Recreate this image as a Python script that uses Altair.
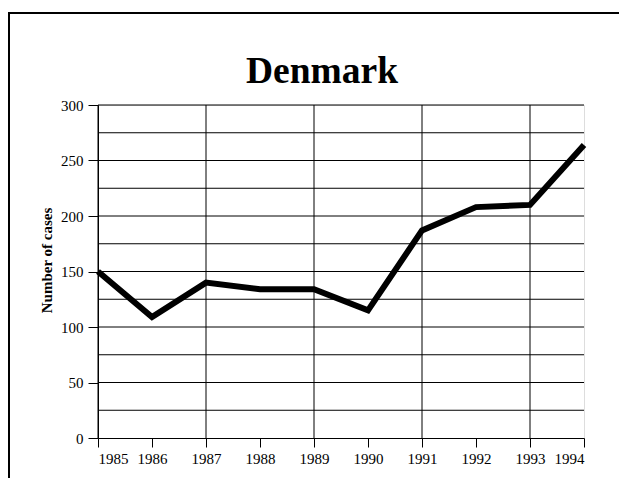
import altair as alt
import pandas as pd

years = [1985, 1986, 1987, 1988, 1989, 1990, 1991, 1992, 1993, 1994]
cases = [150, 109, 140, 134, 134, 115, 187, 208, 210, 264]
vgrid_years = [1985, 1987, 1989, 1991, 1993]
hgrid_values = [25, 50, 75, 100, 125, 150, 175, 200, 225, 250, 275, 300]
y_ticks = [0, 50, 100, 150, 200, 250, 300]

df = pd.DataFrame({"year": years, "cases": cases})
vg = pd.DataFrame({"year": vgrid_years})
hg = pd.DataFrame({"v": hgrid_values})

FONT = "Liberation Serif"
W, H = 486, 333
PL, PT = 90, 97

xscale = alt.Scale(domain=[1985, 1994], nice=False, zero=False)
yscale = alt.Scale(domain=[0, 300], nice=False)

xaxis = alt.Axis(values=years, format="d", grid=False, domainColor="black",
                 domainWidth=1, tickColor="black", tickSize=9, labelFont=FONT,
                 labelFontSize=15, labelColor="black", labelPadding=4, title=None)
yaxis = alt.Axis(values=y_ticks, grid=False, domainColor="black", domainWidth=1,
                 tickColor="black", tickSize=10, labelFont=FONT, labelFontSize=15,
                 labelColor="black", labelPadding=5, title="Number of cases",
                 titleFont=FONT, titleFontSize=15, titleFontWeight="bold",
                 titleColor="black", titleX=-44, titleY=155, titleAngle=-90,
                 titleBaseline="bottom")

vgrid = alt.Chart(vg).mark_rule(color="black", strokeWidth=1).encode(
    x=alt.X("year:Q", scale=xscale, axis=xaxis),
    y=alt.value(0), y2=alt.value(H))
hgrid = alt.Chart(hg).mark_rule(color="black", strokeWidth=1).encode(
    y=alt.Y("v:Q", scale=yscale, axis=yaxis),
    x=alt.value(0), x2=alt.value(W))
line = alt.Chart(df).mark_line(color="black", strokeWidth=6, strokeJoin="miter",
                               strokeCap="butt").encode(
    x=alt.X("year:Q", scale=xscale),
    y=alt.Y("cases:Q", scale=yscale))

# page border (frame of the original figure)
border_top = alt.Chart(df).mark_rule(color="black", strokeWidth=2).encode(
    x=alt.value(-PL), x2=alt.value(W + 60), y=alt.value(-PT + 5))
border_left = alt.Chart(df).mark_rule(color="black", strokeWidth=2).encode(
    x=alt.value(-PL + 1), y=alt.value(-PT + 5), y2=alt.value(H + 60))

chart = alt.layer(vgrid, hgrid, line, border_top, border_left).properties(
    width=W, height=H,
    title=alt.TitleParams("Denmark", font=FONT, fontSize=37.5, fontWeight="bold",
                          color="black", anchor="middle", frame="group",
                          baseline="alphabetic", offset=-108, dx=-19),
    autosize=alt.AutoSizeParams(type="none"),
    padding={"left": PL, "top": PT, "right": 35, "bottom": 40},
).configure_view(stroke=None).configure(background="white")

chart.save("out.html", embed_options={"renderer": "svg", "actions": False})
